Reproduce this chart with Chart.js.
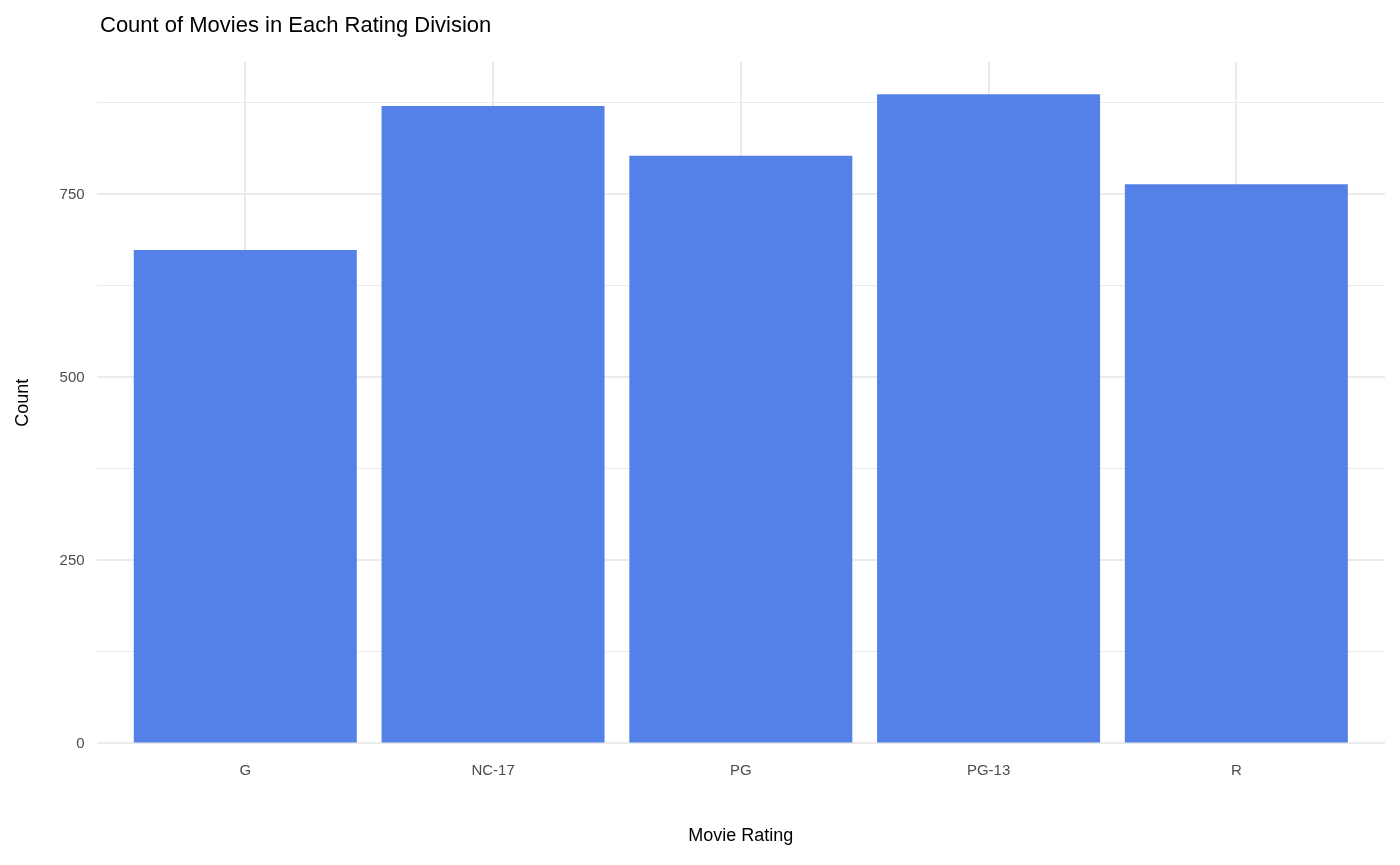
<!DOCTYPE html>
<html>
<head>
<meta charset="utf-8">
<script src="https://cdn.jsdelivr.net/npm/chart.js@4"></script>
<style>
  html, body { margin: 0; padding: 0; background: #fff; }
  #wrap { width: 1400px; height: 865px; position: relative; }
  #title { position: absolute; left: 100px; top: 12px; font: 22px "Liberation Sans", sans-serif; color: #000; }
</style>
</head>
<body>
<div id="wrap"><div id="title">Count of Movies in Each Rating Division</div><canvas id="chart"></canvas></div>
<script>
// data
const ratings = ["G", "NC-17", "PG", "PG-13", "R"];
const counts = [674, 871, 803, 887, 764];
const yTicks = [0, 250, 500, 750];

const ctx = document.getElementById("chart");

new Chart(ctx, {
  type: "bar",
  data: {
    datasets: [
      {
        data: ratings.map((r, i) => ({ x: i + 1, y: counts[i] })),
        backgroundColor: "#5381E8",
        barPercentage: 0.9,
        categoryPercentage: 1,
      },
    ],
  },
  options: {
    responsive: true,
    maintainAspectRatio: false,
    animation: false,
    layout: { padding: { left: 8, right: 15, top: 62, bottom: 14 } },
    plugins: {
      legend: { display: false },
      tooltip: { enabled: false },
    },
    scales: {
      x: {
        type: "linear",
        min: 0.4,
        max: 5.6,
        offset: false,
        afterBuildTicks: (axis) => {
          axis.ticks = ratings.map((r, i) => ({ value: i + 1 }));
        },
        grid: { color: "#ebebeb", lineWidth: 2, drawTicks: false, offset: false },
        border: { display: false },
        ticks: {
          color: "#4d4d4d",
          padding: 18,
          font: { family: "Liberation Sans", size: 15 },
          callback: (v) => ratings[v - 1] || "",
        },
        title: {
          display: true,
          text: "Movie Rating",
          color: "#000",
          font: { family: "Liberation Sans", size: 18 },
          padding: { top: 28 },
        },
      },
      y: {
        min: 0,
        max: 931,
        afterBuildTicks: (axis) => {
          const t = [];
          for (let v = 0; v <= 875; v += 125) t.push({ value: v });
          axis.ticks = t;
        },
        grid: {
          color: "#ebebeb",
          lineWidth: (c) => (yTicks.includes(c.tick.value) ? 2 : 1),
          drawTicks: false,
        },
        border: { display: false },
        ticks: {
          color: "#4d4d4d",
          padding: 12,
          font: { family: "Liberation Sans", size: 15 },
          callback: (v) => (yTicks.includes(v) ? v : ""),
        },
        title: {
          display: true,
          text: "Count",
          color: "#000",
          font: { family: "Liberation Sans", size: 18 },
          padding: { bottom: 14 },
        },
      },
    },
  },
});
</script>
</body>
</html>
